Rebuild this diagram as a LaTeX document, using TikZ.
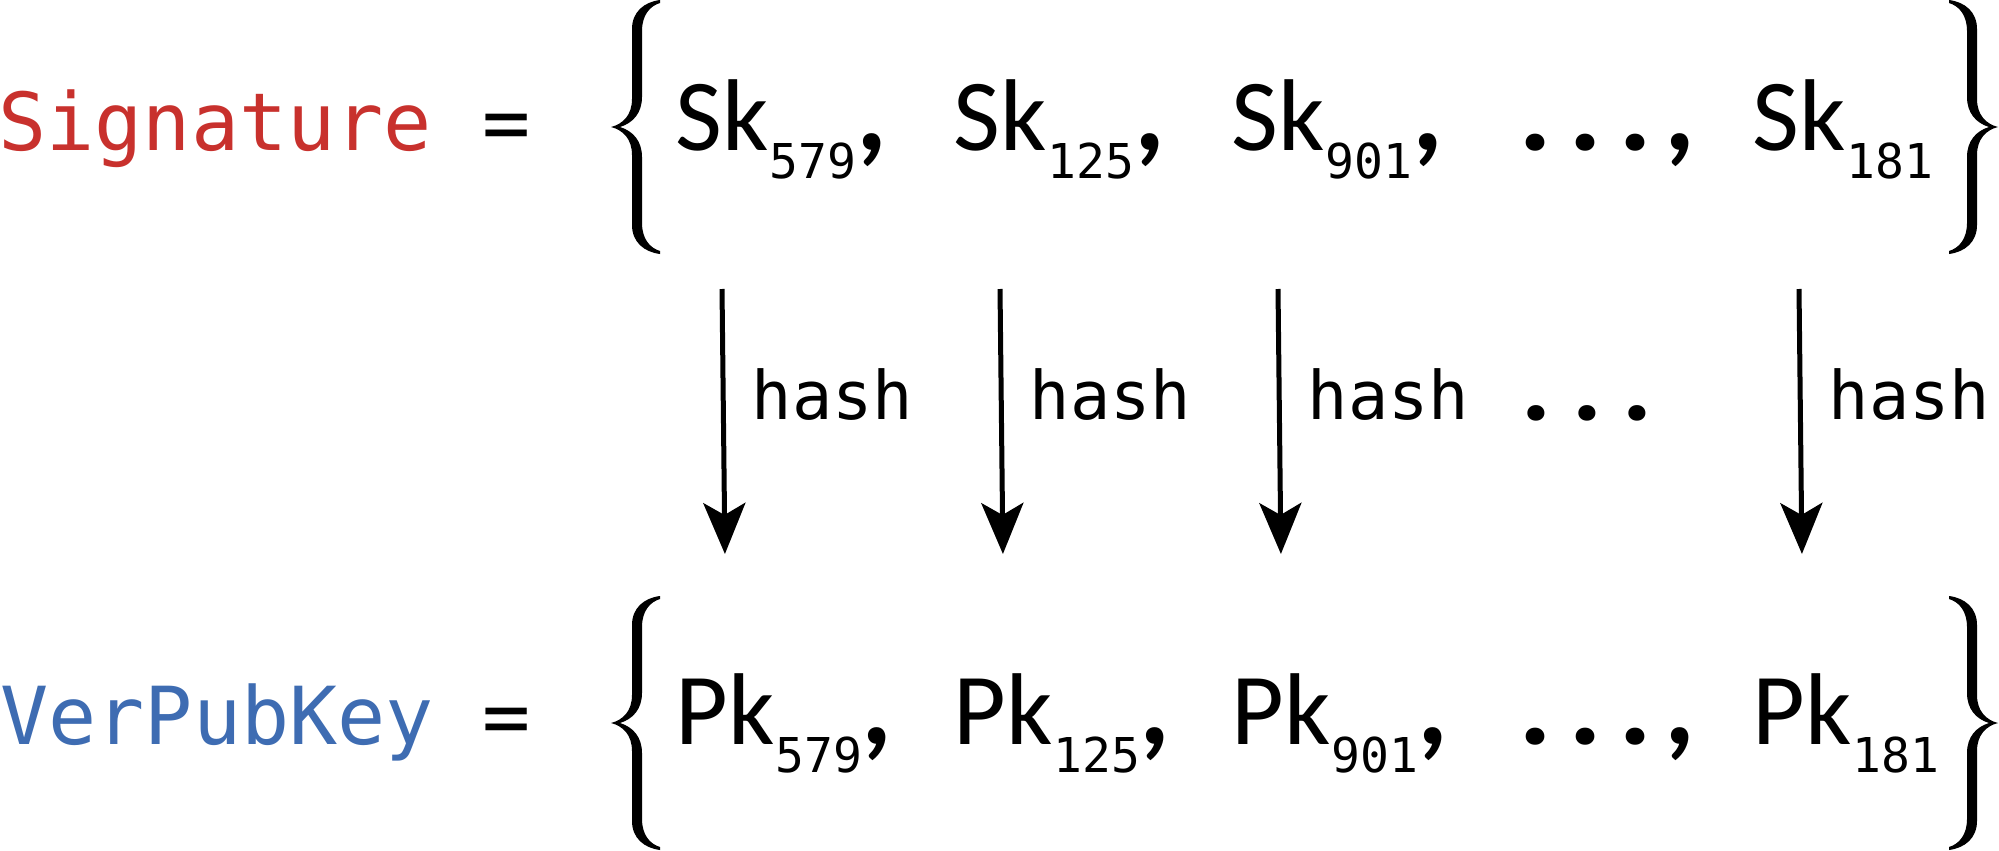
\documentclass[tikz,border=0pt]{standalone}
\usepackage{fontspec}
\newfontfamily\monof{DejaVu Sans Mono}
\newfontfamily\calf{Carlito}
\newfontfamily\punctf{Poppins}
\usetikzlibrary{arrows.meta}
\definecolor{sigred}{RGB}{200,49,45}
\definecolor{keyblue}{RGB}{62,108,178}
\newcommand\subnum[1]{\raisebox{-14pt}{\monof\fontsize{24}{28}\selectfont #1}}
\newcommand\bcomma{{\calf\bfseries\fontsize{60}{70}\selectfont ,}}
\begin{document}
\begin{tikzpicture}[x=0.5pt,y=-0.5pt,
  lbl/.style={inner sep=0, anchor=base west, font=\monof\fontsize{40}{48}\selectfont},
  eqs/.style={inner sep=0, anchor=base, font=\monof\fontsize{40}{48}\selectfont},
  itm/.style={inner sep=0, anchor=base west, font=\calf\fontsize{51}{60}\selectfont},
  tail/.style={inner sep=0, anchor=base west, font=\calf\fontsize{51}{60}\selectfont},
  dotsbox/.style={inner sep=0, anchor=base west, font=\punctf\bfseries\fontsize{46}{56}\selectfont},
  hashlbl/.style={inner xsep=13pt, inner ysep=0pt, anchor=base west, font=\monof\fontsize{33.5}{40}\selectfont},
  hashdots/.style={inner sep=0, anchor=base west, font=\punctf\bfseries\fontsize{42}{50}\selectfont},
  arr/.style={line width=2.5pt, -{Stealth[length=25.5pt, width=21pt, inset=6pt]}},
  curly/.pic={
    \fill (49,-127) .. controls (33,-125) and (21,-115) .. (21,-98)
      -- (21,-28) .. controls (21,-12) and (12,-3) .. (0,0)
      .. controls (12,3) and (21,12) .. (21,28)
      -- (21,98) .. controls (21,115) and (33,125) .. (49,127)
      -- (49,124) .. controls (39,121) and (31,112) .. (31,96)
      -- (31,30) .. controls (31,14) and (22,4) .. (9,0)
      .. controls (22,-4) and (31,-14) .. (31,-30)
      -- (31,-96) .. controls (31,-112) and (39,-121) .. (49,-124)
      -- cycle;
  }]
\useasboundingbox (0,0) rectangle (1999,851);

% top row
\node[lbl, text=sigred] (sig) at (-2,150) {Signature};
\node[eqs] (eq1) at (507,150) {=};
\pic at (611,127) {curly};
\pic[xscale=-1] at (1998,127) {curly};
\node[itm] (sk1) at (675,150) {Sk};
\node[tail] (sk1t) at (sk1.base east) {\subnum{579}\bcomma};
\node[itm] (sk2) at (953,150) {Sk};
\node[tail] (sk2t) at (sk2.base east) {\subnum{125}\bcomma};
\node[itm] (sk3) at (1231,150) {Sk};
\node[tail] (sk3t) at (sk3.base east) {\subnum{901}\bcomma};
\node[dotsbox] (skd) at (1522,150) {.\hspace{12pt}.\hspace{12pt}.\hspace{8pt}\bcomma};
\node[itm] (sk4) at (1752,150) {Sk};
\node[tail] (sk4t) at (sk4.base east) {\subnum{181}};

% bottom row
\node[lbl, text=keyblue] (vpk) at (0,744) {VerPubKey};
\node[eqs] (eq2) at (507,744) {=};
\pic at (611,723) {curly};
\pic[xscale=-1] at (1998,723) {curly};
\node[itm] (pk1) at (675,744) {Pk};
\node[tail] (pk1t) at (pk1.base east) {\subnum{579}\bcomma};
\node[itm] (pk2) at (953,744) {Pk};
\node[tail] (pk2t) at (pk2.base east) {\subnum{125}\bcomma};
\node[itm] (pk3) at (1231,744) {Pk};
\node[tail] (pk3t) at (pk3.base east) {\subnum{901}\bcomma};
\node[dotsbox] (pkd) at (1522,744) {.\hspace{12pt}.\hspace{12pt}.\hspace{8pt}\bcomma};
\node[itm] (pk4) at (1752,744) {Pk};
\node[tail] (pk4t) at (pk4.base east) {\subnum{181}};

% hash arrows
\draw[arr] ([yshift=-69.5pt]sk1.base) -- node[hashlbl, pos=0.494] (h1) {hash} ([yshift=95pt]pk1.base);
\draw[arr] ([yshift=-69.5pt]sk2.base) -- node[hashlbl, pos=0.494] (h2) {hash} ([yshift=95pt]pk2.base);
\draw[arr] ([yshift=-69.5pt]sk3.base) -- node[hashlbl, pos=0.494] (h3) {hash} ([yshift=95pt]pk3.base);
\draw[arr] ([yshift=-69.5pt]sk4.base) -- node[hashlbl, pos=0.494] (h4) {hash} ([yshift=95pt]pk4.base);
\node[hashdots] (hd) at (1524,420) {.\hspace{13.5pt}.\hspace{13.5pt}.};
\end{tikzpicture}
\end{document}
